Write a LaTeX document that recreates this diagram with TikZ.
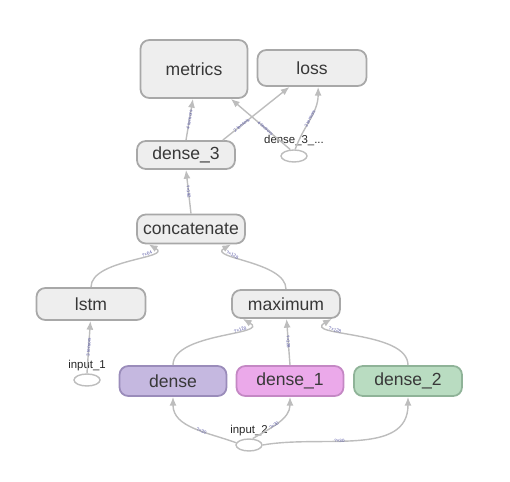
\documentclass[tikz,border=0pt]{standalone}
\usepackage{fontspec}
\setmainfont{Liberation Sans}
\usetikzlibrary{shapes.geometric}
\usetikzlibrary{arrows.meta}
\definecolor{opfill}{HTML}{EEEEEE}
\definecolor{opline}{HTML}{A8A8A8}
\definecolor{edge}{HTML}{BDBDBD}
\definecolor{densefill}{HTML}{C5B8E0}
\definecolor{denseline}{HTML}{9A8CBA}
\definecolor{denseonefill}{HTML}{EBA9EA}
\definecolor{denseoneline}{HTML}{C488C4}
\definecolor{densetwofill}{HTML}{B9DCC1}
\definecolor{densetwoline}{HTML}{8FB398}

\tikzset{
    op/.style={draw=opline, line width=1pt, rounded corners=5pt, fill=opfill,
        font=\fontsize{10}{12}\selectfont, text=black!78, inner sep=0pt},
    inp/.style={ellipse, draw=edge, line width=0.8pt, minimum width=0.52cm, minimum height=0.24cm, inner sep=0pt},
    inname/.style={font=\fontsize{6.5}{8}\selectfont, text=black!85, inner sep=0pt},
    flow/.style={draw=edge, line width=0.8pt, -{Latex[length=5pt,width=4pt]}},
    shp/.style={font=\fontsize{2.6}{3}\selectfont, text=gray!70!blue, sloped, inner sep=0.5pt},
}

\begin{document}
\begin{tikzpicture}[x=0.02cm, y=-0.02cm]
        \useasboundingbox (0,0) rectangle (510,482);

        \node[op, minimum width=2.14cm, minimum height=1.16cm] (metrics) at (194,69) {metrics};
        \node[op, minimum width=2.18cm, minimum height=0.72cm] (loss) at (312,68) {loss};
        \node[op, minimum width=1.96cm, minimum height=0.56cm] (dense3) at (186,155) {dense\_3};
        \node[inp] (d3in) at (294,156) {};
        \node[inname] (d3name) at (294,141) {dense\_3\_...};
        \node[op, minimum width=2.16cm, minimum height=0.58cm] (concat) at (191,229) {concatenate};
        \node[op, minimum width=2.18cm, minimum height=0.64cm] (lstm) at (91,304) {lstm};
        \node[op, minimum width=2.16cm, minimum height=0.56cm] (maximum) at (286,304) {maximum};
        \node[inp] (in1) at (87,380) {};
        \node[inname] (in1name) at (87,366) {input\_1};
        \node[op, minimum width=2.14cm, minimum height=0.6cm, fill=densefill, draw=denseline] (dense) at (173,381) {dense};
        \node[op, minimum width=2.14cm, minimum height=0.6cm, fill=denseonefill, draw=denseoneline] (dense1) at (290,381) {dense\_1};
        \node[op, minimum width=2.16cm, minimum height=0.6cm, fill=densetwofill, draw=densetwoline] (dense2) at (408,381) {dense\_2};
        \node[inp] (in2) at (249,445) {};
        \node[inname] (in2name) at (249,431) {input\_2};

        \draw[flow] (dense3.north) -- node[shp] {4 tensors} (metrics.-92);
        \draw[flow] (dense3.22) -- node[shp, pos=0.28] {2 tensors} (loss.-140);
        \draw[flow] (d3in.120) -- node[shp, pos=0.42] {4 tensors} (metrics.-39);
        \draw[flow] (d3in.80) to[out=70, in=-90] node[shp] {2 tensors} (loss.-72);
        \draw[flow] (concat.north) -- node[shp] {?×192} (dense3.south);
        \draw[flow] (lstm.north) to[out=90, in=-30] node[shp, pos=0.7] {?×64} (concat.-160);
        \draw[flow] (maximum.north) to[out=90, in=-150] node[shp, pos=0.7] {?×128} (concat.-21);
        \draw[flow] (in1.north) -- node[shp] {3 tensors} (lstm.-92);
        \draw[flow] (dense.north) to[out=90, in=-30] node[shp, pos=0.7] {?×128} (maximum.-161);
        \draw[flow] (dense1.north) -- node[shp] {?×128} (maximum.-88);
        \draw[flow] (dense2.north) to[out=90, in=-150] node[shp, pos=0.7] {?×128} (maximum.-18);
        \draw[flow] (in2.170) to[out=160, in=-90] node[shp, pos=0.4] {?×30} (dense.south);
        \draw[flow] (in2.60) to[out=30, in=-90] node[shp, pos=0.4] {?×30} (dense1.south);
        \draw[flow] (in2.east) to[out=10, in=-90] node[shp, pos=0.4] {?×30} (dense2.south);
    \end{tikzpicture}
\end{document}
